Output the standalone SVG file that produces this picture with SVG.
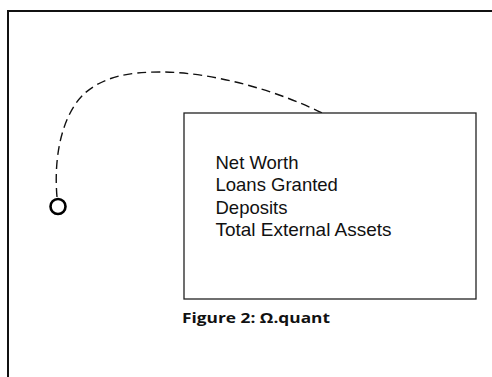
<svg xmlns="http://www.w3.org/2000/svg" width="492" height="377" viewBox="0 0 492 377">
  <style>
    .frame { fill: none; stroke: #111; stroke-width: 2; }
    .box { fill: #fff; stroke: #222; stroke-width: 1.3; }
    .label { font-family: "Liberation Sans", Arial, sans-serif; font-size: 18.5px; fill: #111; }
    .caption { font-family: "Open Sans", "Noto Sans", sans-serif; font-weight: bold; font-size: 15px; fill: #111; }
    .link { fill: none; stroke: #111; stroke-width: 1.4; stroke-dasharray: 9 5; }
    .port { fill: #fff; stroke: #000; stroke-width: 2.6; }
  </style>
  <rect width="492" height="377" fill="#fff"/>
  <!-- outer frame, running past the right and bottom edges -->
  <rect class="frame" x="8" y="11" width="520" height="420"/>

  <g id="connectors">
    <path class="link" d="M57,197 C53,150 65,111 85,93 C105,76 130,72 160,72 C215,72 280,92 322,113"/>
  </g>

  <g id="quant-box">
    <rect class="box" x="184" y="113" width="292" height="186"/>
    <text class="label" x="215.5" y="168.5">Net Worth</text>
    <text class="label" x="215.5" y="191">Loans Granted</text>
    <text class="label" x="215.5" y="213.5">Deposits</text>
    <text class="label" x="215.5" y="236" textLength="176" lengthAdjust="spacingAndGlyphs">Total External Assets</text>
  </g>

  <g id="port">
    <circle class="port" cx="58" cy="206.5" r="7.5"/>
  </g>

  <g id="caption">
    <text class="caption" x="182" y="323" textLength="148" lengthAdjust="spacingAndGlyphs">Figure 2: Ω.quant</text>
  </g>
</svg>
